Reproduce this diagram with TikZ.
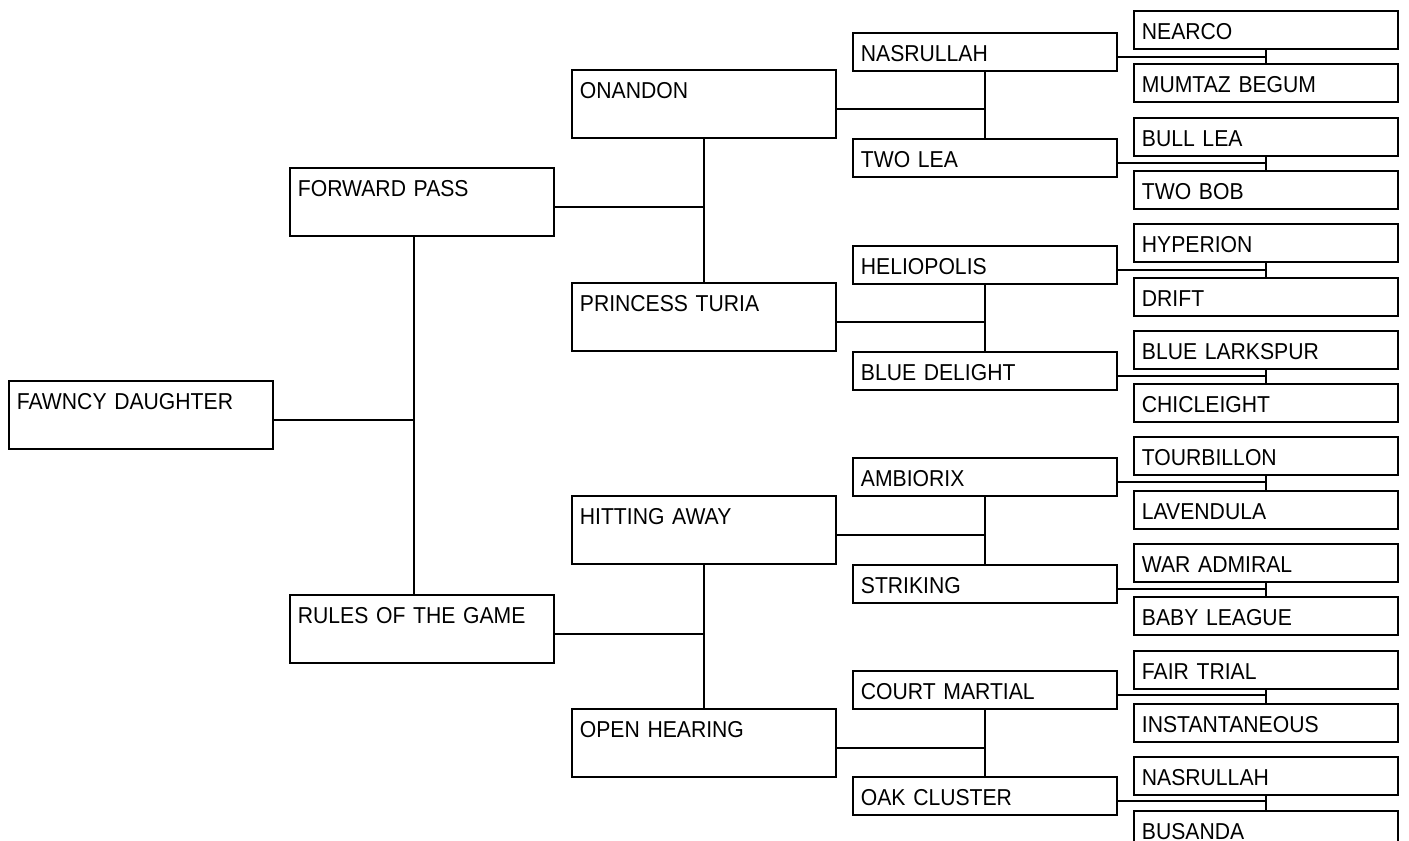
\documentclass[tikz,border=0pt]{standalone}
\usepackage{fontspec}
\setmainfont{Liberation Sans}[FakeStretch=0.92]
\usepackage{tikz}
\usetikzlibrary{positioning,calc}

\begin{document}
\begin{tikzpicture}[x=1pt,y=-1pt,
  box/.style={draw=black, line width=1.8pt, anchor=north west,
              text width=248pt, inner xsep=8pt, inner ysep=0pt,
              align=left, text height=28.5pt,
              font=\fontsize{23}{24}\selectfont},
  big/.style={box, text depth=39.5pt},
  small/.style={box, text depth=9.5pt},
  link/.style={draw=black, line width=1.8pt}
]
  \clip (0,0) rectangle (1409,841);

  % horse and parents
  \node[big] (fd) at (8,380)  {FAWNCY DAUGHTER};
  \node[big] (fp) at (289,167) {FORWARD PASS};
  \node[big] (rg) at (289,594) {RULES OF THE GAME};

  % grandparents
  \node[big] (on) at (571,69)  {ONANDON};
  \node[big] (pt) at (571,282) {PRINCESS TURIA};
  \node[big] (ha) at (571,495) {HITTING AWAY};
  \node[big] (oh) at (571,708) {OPEN HEARING};

  % third generation
  \foreach \n/\t [count=\i from 0] in {nas/NASRULLAH, tl/TWO LEA,
      hel/HELIOPOLIS, bd/BLUE DELIGHT, amb/AMBIORIX, str/STRIKING,
      cm/COURT MARTIAL, oc/OAK CLUSTER}
    \node[small] (\n) at (852,{round(32+106.3*\i)}) {\t};

  % fourth generation
  \foreach \n/\t [count=\i from 0] in {nearco/NEARCO, mumtaz/MUMTAZ BEGUM,
      bulllea/BULL LEA, twobob/TWO BOB, hyperion/HYPERION, drift/DRIFT,
      larkspur/BLUE LARKSPUR, chicleight/CHICLEIGHT, tourbillon/TOURBILLON,
      lavendula/LAVENDULA, waradmiral/WAR ADMIRAL, babyleague/BABY LEAGUE,
      fairtrial/FAIR TRIAL, instant/INSTANTANEOUS, nasb/NASRULLAH,
      busanda/BUSANDA}
    \node[small] (\n) at (1133,{round(10+53.3*\i)}) {\t};

  % first link sits a little left of centre
  \coordinate (fdjoin) at ([xshift=-8pt]fp.south);
  \draw[link] (fdjoin) -- (fdjoin |- rg.north);
  \draw[link] ([yshift=-5pt]fd.east) -- ([yshift=-5pt]fd.east -| fdjoin);

  % parent -> sire/dam links
  \foreach \p/\a/\b in {fp/on/pt, rg/ha/oh,
      on/nas/tl, pt/hel/bd, ha/amb/str, oh/cm/oc,
      nas/nearco/mumtaz, tl/bulllea/twobob, hel/hyperion/drift,
      bd/larkspur/chicleight, amb/tourbillon/lavendula,
      str/waradmiral/babyleague, cm/fairtrial/instant, oc/nasb/busanda}
  {
    \draw[link] (\a.south) -- (\b.north);
    \draw[link] ([yshift=-5pt]\p.east) -- ([yshift=-5pt]\p.east -| \a.south);
  }
\end{tikzpicture}
\end{document}
